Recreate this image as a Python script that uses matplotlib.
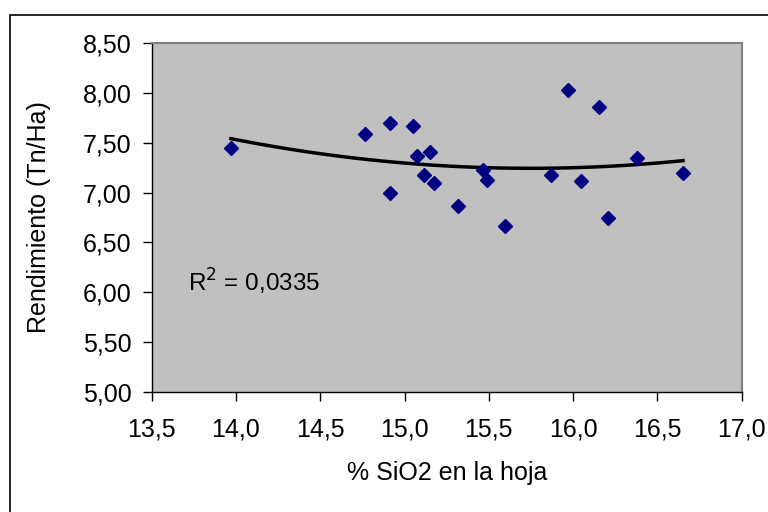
import numpy as np
import matplotlib
matplotlib.use("Agg")
import matplotlib.pyplot as plt
from matplotlib.patches import Rectangle

plt.rcParams['font.family'] = ['Liberation Sans', 'DejaVu Sans']

# Data
sio2 = [13.97, 14.765, 14.915, 15.05, 14.915, 15.074, 15.149, 15.114, 15.175, 15.319,
        15.467, 15.487, 15.598, 15.870, 15.969, 16.045, 16.155, 16.205, 16.377, 16.652]
rend = [7.445, 7.591, 7.696, 7.672, 6.992, 7.364, 7.405, 7.176, 7.093, 6.868,
        7.227, 7.129, 6.661, 7.176, 8.028, 7.116, 7.863, 6.741, 7.350, 7.200]

x_ticks = [13.5, 14.0, 14.5, 15.0, 15.5, 16.0, 16.5, 17.0]
x_ticklabels = ["13,5", "14,0", "14,5", "15,0", "15,5", "16,0", "16,5", "17,0"]
y_ticks = [5.0, 5.5, 6.0, 6.5, 7.0, 7.5, 8.0, 8.5]
y_ticklabels = ["5,00", "5,50", "6,00", "6,50", "7,00", "7,50", "8,00", "8,50"]
r2_text = "R$^2$ = 0,0335"

x = np.array(sio2)
y = np.array(rend)

fig = plt.figure(figsize=(7.68, 5.12), dpi=100)
W, H = 768, 512
L, R, T, B = 151.7, 741.7, 43.3, 391.7
ax = fig.add_axes([L / W, 1 - B / H, (R - L) / W, (B - T) / H])
ax.set_facecolor('#C0C0C0')

# polynomial trend line (order 2) fitted to the data
coef = np.polyfit(x, y, 2)
xt = np.linspace(x.min(), x.max(), 40)
ax.plot(xt, np.polyval(coef, xt), color='black', lw=2.5, zorder=2)

ax.plot(x, y, linestyle='none', marker='D', ms=7.5, color='#000080',
        markeredgecolor='#000080', zorder=3)

ax.set_xlim(13.5, 17.0)
ax.set_ylim(5.0, 8.5)
ax.set_xticks(x_ticks)
ax.set_xticklabels(x_ticklabels)
ax.set_yticks(y_ticks)
ax.set_yticklabels(y_ticklabels)
ax.tick_params(direction='out', length=6.5, width=1, labelsize=18, colors='black')
ax.tick_params(axis='x', pad=12)
ax.tick_params(axis='y', pad=8)

for s in ['top', 'right']:
    ax.spines[s].set_color('#808080')
    ax.spines[s].set_linewidth(1.5)
for s in ['left', 'bottom']:
    ax.spines[s].set_color('black')
    ax.spines[s].set_linewidth(1.0)

ax.set_xlabel('% SiO2 en la hoja', fontsize=18, va='center')
ax.xaxis.set_label_coords((446.7 - L) / (R - L), (B - 473) / (B - T))
ax.set_ylabel('Rendimiento (Tn/Ha)', fontsize=18, va='center')
ax.yaxis.set_label_coords((39 - L) / (R - L), 0.5)

ax.text(188 / W, 1 - 291.7 / H, r2_text, transform=fig.transFigure, fontsize=17.5,
        ha='left', va='baseline')

fig.patches.append(Rectangle((9.5 / W, -0.1), 1.2, 1 - 14.5 / H + 0.1,
                             transform=fig.transFigure, fill=False,
                             edgecolor='black', lw=1.2))

fig.savefig('out.png', dpi=100)
